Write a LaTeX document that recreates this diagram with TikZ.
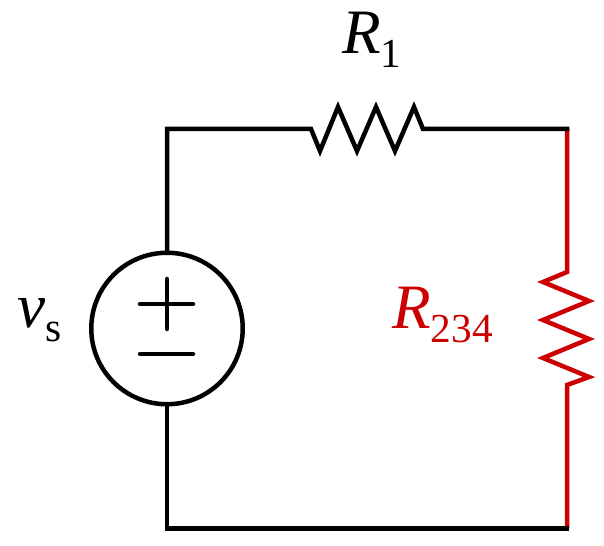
\documentclass[tikz,border=0pt]{standalone}
\usepackage{fontspec}
\setmainfont{Liberation Serif}
\definecolor{highlight}{HTML}{CC0000}
\newcommand{\elabel}[2]{{\fontsize{36}{36}\selectfont\itshape #1}\raisebox{-0.28cm}{\fontsize{23.5}{23.5}\selectfont #2}}
\tikzset{
    conn/.style={line width=0.09cm, line join=miter},
    elem/.style={inner sep=0pt, anchor=base west},
}

\begin{document}
\begin{tikzpicture}[x=0.02cm, y=-0.02cm]
    \useasboundingbox (0, 0) rectangle (604, 546);

    % Corners and resistor ends
    \coordinate (topleft) at (167, 129);
    \coordinate (topright) at (567, 129);
    \coordinate (botleft) at (167, 528.5);
    \coordinate (botright) at (567, 528.5);
    \coordinate (r1a) at (311, 129);
    \coordinate (r1b) at (423, 129);
    \coordinate (r2a) at (567, 272);
    \coordinate (r2b) at (567, 385);

    % Draw the red branch
    \draw[conn, highlight] (topright) -- (r2a) -- ++(-24, 10) -- ++(46, 19) -- ++(-46, 19) -- ++(46, 19) -- ++(-46, 19) -- ++(46, 19) -- (r2b) -- (botright);

    % Draw the source
    \node[draw, conn, circle, inner sep=0pt, minimum size=3.03cm] (source) at (167, 328.5) {};
    \draw[conn, line cap=round] (140, 304) -- (193, 304);
    \draw[conn, line cap=round] (167, 279) -- (167, 329);
    \draw[conn, line cap=round] (140, 354) -- (193, 354);

    % Draw the black loop
    \draw[conn, line cap=rect] (source.north) -- (topleft) -- (r1a) -- (320, 151) -- (338, 107) -- (357, 151) -- (376, 107) -- (395, 151) -- (414, 107) -- (r1b) -- (topright);
    \draw[conn, line cap=rect] (source.south) -- (botleft) -- (botright);

    % Labels
    \node[elem] (r1label) at (342, 54) {\elabel{R}{1}};
    \node[elem] (vslabel) at (17, 328) {\elabel{v}{s}};
    \node[elem, highlight] (r234label) at (392, 329) {\elabel{R}{234}};
\end{tikzpicture}
\end{document}
